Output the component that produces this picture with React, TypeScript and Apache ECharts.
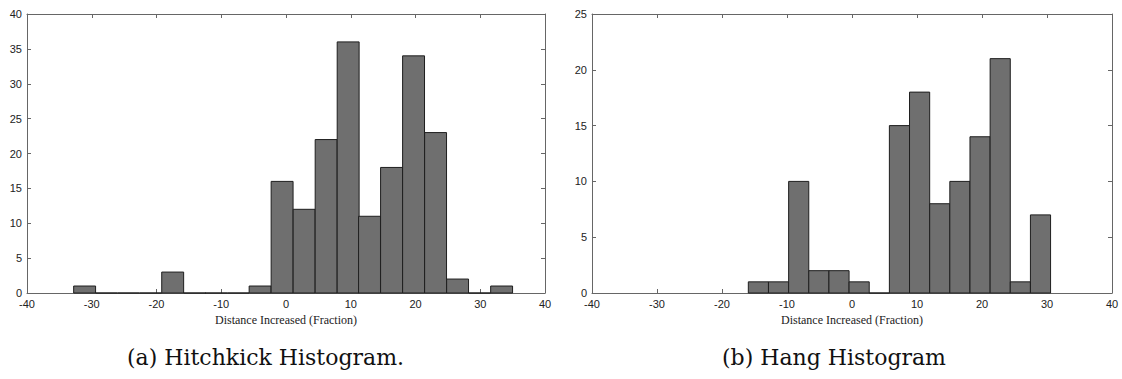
import React, { useEffect, useRef } from "react";
import * as echarts from "echarts";

// Hitchkick histogram (left): bin centers and counts
const hitchBinCenters = [-31.1, -27.7, -24.3, -20.9, -17.5, -14.1, -10.8, -7.4, -4.0, -0.6, 2.8, 6.2, 9.6, 12.9, 16.3, 19.7, 23.1, 26.5, 29.9, 33.3];
const hitchCounts = [1, 0, 0, 0, 3, 0, 0, 0, 1, 16, 12, 22, 36, 11, 18, 34, 23, 2, 0, 1];
const hitchBinWidth = 3.385;

// Hang histogram (right): bin centers and counts
const hangBinCenters = [-14.4, -11.3, -8.2, -5.1, -2.0, 1.1, 4.2, 7.3, 10.4, 13.5, 16.6, 19.7, 22.8, 25.9, 29.0];
const hangCounts = [1, 1, 10, 2, 2, 1, 0, 15, 18, 8, 10, 14, 21, 1, 7];
const hangBinWidth = 3.1;

const xTicks = [-40, -30, -20, -10, 0, 10, 20, 30, 40];
const xAxisTitle = "Distance Increased (Fraction)";
const captions = ["(a) Hitchkick Histogram.", "(b) Hang Histogram"];
const hitchYMax = 40;
const hangYMax = 25;

const FRAME = "#666";
const TICKFONT = "Liberation Sans";

function makeRender(binWidth: number) {
  return (params: any, api: any) => {
    const x = api.value(0);
    const y = api.value(1);
    const p0 = api.coord([x - binWidth / 2, y]);
    const p1 = api.coord([x + binWidth / 2, 0]);
    return {
      type: "rect",
      shape: { x: p0[0], y: p0[1], width: p1[0] - p0[0], height: p1[1] - p0[1] },
      style: { fill: "#6f6f6f", stroke: "#1e1e1e", lineWidth: 1 },
    };
  };
}

function xAxes(gridIndex: number) {
  const common = {
    type: "value" as const,
    gridIndex,
    min: xTicks[0],
    max: xTicks[xTicks.length - 1],
    interval: 10,
    splitLine: { show: false },
    axisLine: { show: true, onZero: false, lineStyle: { color: FRAME, width: 1 } },
    axisTick: { show: true, inside: true, length: 4, lineStyle: { color: FRAME } },
  };
  return [
    {
      ...common,
      position: "bottom",
      axisLabel: { show: true, fontFamily: TICKFONT, fontSize: 11, color: "#222", margin: 5, showMinLabel: true, showMaxLabel: true },
      name: xAxisTitle,
      nameLocation: "middle",
      nameGap: 20,
      nameTextStyle: { fontFamily: "Liberation Serif", fontSize: 12, color: "#222" },
    },
    { ...common, position: "top", axisLabel: { show: false } },
  ];
}

function yAxes(gridIndex: number, max: number) {
  const common = {
    type: "value" as const,
    gridIndex,
    min: 0,
    max,
    interval: 5,
    splitLine: { show: false },
    axisLine: { show: true, onZero: false, lineStyle: { color: FRAME, width: 1 } },
    axisTick: { show: true, inside: true, length: 4, lineStyle: { color: FRAME } },
  };
  return [
    { ...common, position: "left", axisLabel: { show: true, fontFamily: TICKFONT, fontSize: 11, color: "#222", margin: 5 } },
    { ...common, position: "right", axisLabel: { show: false } },
  ];
}

export default function App() {
  const ref = useRef<HTMLDivElement>(null);
  useEffect(() => {
    if (!ref.current) return;
    const chart = echarts.init(ref.current, undefined, { renderer: "svg" });
    chart.setOption({
      animation: false,
      backgroundColor: "#fff",
      grid: [
        { left: 27, top: 14, width: 518, height: 279 },
        { left: 592, top: 14, width: 520, height: 279 },
      ],
      xAxis: [...xAxes(0), ...xAxes(1)],
      yAxis: [...yAxes(0, hitchYMax), ...yAxes(1, hangYMax)],
      series: [
        {
          type: "custom",
          xAxisIndex: 0,
          yAxisIndex: 0,
          renderItem: makeRender(hitchBinWidth),
          encode: { x: 0, y: 1 },
          data: hitchBinCenters.map((c, i) => [c, hitchCounts[i]]),
        },
        {
          type: "custom",
          xAxisIndex: 2,
          yAxisIndex: 2,
          renderItem: makeRender(hangBinWidth),
          encode: { x: 0, y: 1 },
          data: hangBinCenters.map((c, i) => [c, hangCounts[i]]),
        },
      ],
      graphic: [
        {
          type: "text",
          left: 127,
          top: 346,
          style: { text: captions[0], font: "22px 'DejaVu Serif'", fill: "#111" },
        },
        {
          type: "text",
          left: 722,
          top: 346,
          style: { text: captions[1], font: "22px 'DejaVu Serif'", fill: "#111" },
        },
      ],
    });
    return () => chart.dispose();
  }, []);
  return <div ref={ref} style={{ position: "fixed", left: 0, top: 0, width: 1122, height: 379 }} />;
}
